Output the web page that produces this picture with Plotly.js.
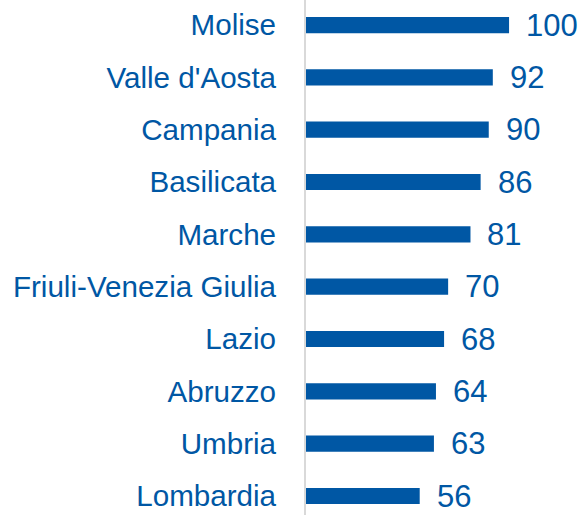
<!DOCTYPE html>
<html>
<head>
<meta charset="utf-8">
<script src="https://cdn.plot.ly/plotly-3.0.1.min.js"></script>
<style>html,body{margin:0;padding:0;background:#fff;}#chart{width:585px;height:515px;}</style>
</head>
<body>
<div id="chart"></div>
<script>
const regions = ["Molise","Valle d'Aosta","Campania","Basilicata","Marche","Friuli-Venezia Giulia","Lazio","Abruzzo","Umbria","Lombardia"];
const values = [100, 92, 90, 86, 81, 70, 68, 64, 63, 56];

const blue = "#0057A4";
const fontFam = "Liberation Sans, Arial, sans-serif";

const trace = {
  type: "bar",
  orientation: "h",
  y: regions,
  x: values,
  marker: {color: blue},
  hoverinfo: "none"
};

const annotations = regions.map((r, i) => ({
  x: values[i], y: r, xref: "x", yref: "y",
  text: String(values[i]), showarrow: false,
  xanchor: "left", yanchor: "middle", xshift: 15,
  font: {family: fontFam, size: 31, color: blue}
}));

const layout = {
  width: 585, height: 515,
  margin: {l: 306, r: 0, t: 0, b: 0, pad: 0},
  paper_bgcolor: "#fff", plot_bgcolor: "#fff",
  showlegend: false,
  bargap: 0.69,
  xaxis: {range: [0, 137.4], showgrid: false, zeroline: false, showticklabels: false, showline: false, fixedrange: true},
  yaxis: {
    type: "category",
    range: [9.363, -0.478],
    showgrid: false, zeroline: false,
    showline: true, linecolor: "#d9d9d9", linewidth: 2,
    ticks: "", ticklabelstandoff: 22,
    tickfont: {family: fontFam, size: 29.6, color: blue},
    fixedrange: true
  },
  annotations: annotations
};

Plotly.newPlot("chart", [trace], layout, {displayModeBar: false, staticPlot: true});
</script>
</body>
</html>
